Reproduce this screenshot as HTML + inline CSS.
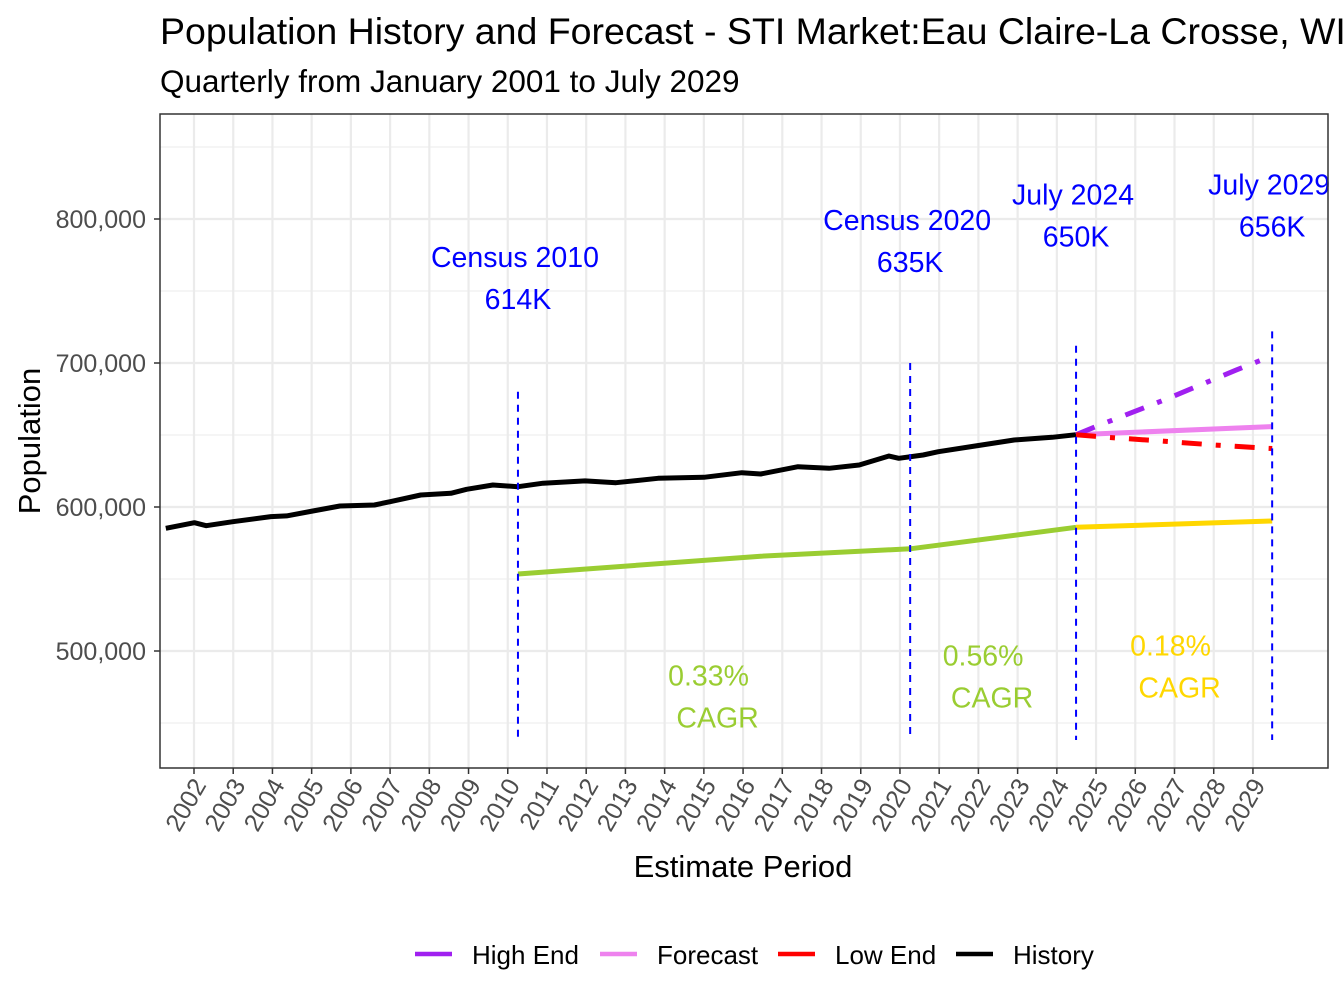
<!DOCTYPE html>
<html><head><meta charset="utf-8"><style>
body{margin:0;background:#fff;}
svg{display:block;font-family:"Liberation Sans",Arial,sans-serif;}
</style></head><body>
<svg id="chart" width="1344" height="1008" viewBox="0 0 1344 1008" xmlns="http://www.w3.org/2000/svg">
<text x="160" y="44" font-size="37.5" fill="#000">Population History and Forecast - STI Market:Eau Claire-La Crosse, WI</text>
<text x="160" y="92" font-size="31.5" fill="#000">Quarterly from January 2001 to July 2029</text>
<g id="grid"></g>
<g id="marks"></g>
<g id="annot"></g>
<rect x="160" y="114" width="1168" height="654" fill="none" stroke="#333" stroke-width="1.5"/>
<g id="axes"></g>
<text x="743" y="877" font-size="31" text-anchor="middle">Estimate Period</text>
<text transform="translate(40,441) rotate(-90)" font-size="31" text-anchor="middle">Population</text>
<g id="legend"></g>
</svg>
<script>
const histYears=[2001.28,2002.01,2002.31,2002.99,2003.96,2004.36,2005.03,2005.72,2006.60,2007.00,2007.78,2008.55,2008.95,2009.62,2010.26,2010.90,2011.97,2012.76,2013.83,2015.00,2015.97,2016.45,2017.40,2018.19,2018.96,2019.72,2019.97,2020.59,2020.98,2021.94,2022.91,2023.88,2024.49];
const histValues=[585200,589100,587000,589800,593300,593800,597200,600700,601400,603700,608300,609500,612300,615300,614100,616500,618100,616900,619900,620600,623800,622900,628000,626900,629200,635400,633800,636100,638400,642400,646500,648400,650200];
const greenYears=[2010.26,2016.45,2020.26,2024.49];
const greenValues=[553500,565800,571000,585900];
const yellowYears=[2024.49,2029.49];
const yellowValues=[585900,590300];
const fcYears=[2024.49,2029.49];
const fcValues=[650200,655800];
const highYears=[2024.49,2024.99,2026.78,2028.57,2029.49];
const highValues=[650200,655800,674800,695100,705000];
const lowYears=[2024.49,2025.28,2026.58,2027.98,2029.33,2029.49];
const lowValues=[650200,648400,646000,643100,640800,640600];
const yTicks=[500000,600000,700000,800000];
const yTickLabels=["500,000","600,000","700,000","800,000"];
const xTicks=[2002,2003,2004,2005,2006,2007,2008,2009,2010,2011,2012,2013,2014,2015,2016,2017,2018,2019,2020,2021,2022,2023,2024,2025,2026,2027,2028,2029];
const vYears=[2010.26,2020.26,2024.49,2029.49];
const vTop=[680000,700000,712000,722000];
const labelTop=["Census 2010","Census 2020","July 2024","July 2029"];
const labelBot=["614K","635K","650K","656K"];
const labelVal=[766500,792200,810200,816900];
const cagrText=["0.33%","0.56%","0.18%"];
const cagrYears=[2015.12,2022.12,2026.9];
const cagrVal=[476000,490000,497000];
const cagrColor=["#9ACD32","#9ACD32","#FFD700"];

const NS="http://www.w3.org/2000/svg";
const X=y=>194+(y-2002)*39.22;
const Y=v=>651-(v-500000)*144/100000;
function mk(tag,attrs,parent){const e=document.createElementNS(NS,tag);for(const k in attrs)e.setAttribute(k,attrs[k]);parent.appendChild(e);return e;}
const grid=document.getElementById('grid'),marks=document.getElementById('marks'),annot=document.getElementById('annot'),axes=document.getElementById('axes'),legend=document.getElementById('legend');
mk('rect',{x:160,y:114,width:1168,height:654,fill:'#fff'},grid);
for(let v=450000;v<=850000;v+=50000){const y=Y(v);if(y<114||y>768)continue;
 const l=mk('line',{x1:160,x2:1328,y1:y,y2:y,stroke:'#ebebeb','stroke-width':(v%100000===0)?2.2:1.1},grid);
 
 }
xTicks.forEach(t=>{const l=mk('line',{x1:X(t),x2:X(t),y1:114,y2:768,stroke:'#ebebeb','stroke-width':2.2},grid);
 
 });
function pts(xs,vs){return xs.map((x,i)=>X(x).toFixed(1)+','+Y(vs[i]).toFixed(1)).join(' ');}
function series(xs,vs,color,name,dash,w){const p=mk('polyline',{points:pts(xs,vs),fill:'none',stroke:color,'stroke-width':w,'stroke-linejoin':'round'},marks);
 if(dash)p.setAttribute('stroke-dasharray',dash);
 
 }
series(greenYears,greenValues,'#9ACD32','cagr-line-2010-2024',null,5);
series(yellowYears,yellowValues,'#FFD700','cagr-line-2024-2029',null,5);
series(histYears,histValues,'#000','history-line',null,5);
series(fcYears,fcValues,'#EE82EE','forecast-line',null,5);
series(highYears,highValues,'#A020F0','high-end-line','20 14 5 14',5);
series(lowYears,lowValues,'#FF0000','low-end-line','20 14 5 14',5);
vYears.forEach((yr,i)=>{const x=X(yr);
 const l=mk('line',{x1:x,x2:x,y1:Y(vTop[i]),y2:740,stroke:'#0000FF','stroke-width':2,'stroke-dasharray':'7 6'},annot);
 
 
 const t1=mk('text',{x:x-3,y:Y(labelVal[i]),'font-size':28.5,fill:'#0000FF','text-anchor':'middle'},annot);t1.textContent=labelTop[i];
 
 
 const t2=mk('text',{x:x,y:Y(labelVal[i])+42,'font-size':28.5,fill:'#0000FF','text-anchor':'middle'},annot);t2.textContent=labelBot[i];
 
 });
cagrText.forEach((c,i)=>{const x=X(cagrYears[i]),y=Y(cagrVal[i]);
 const t1=mk('text',{x:x,y:y,'font-size':28.5,fill:cagrColor[i],'text-anchor':'middle'},annot);t1.textContent=c;
 
 
 const t2=mk('text',{x:x+9,y:y+42,'font-size':28.5,fill:cagrColor[i],'text-anchor':'middle'},annot);t2.textContent='CAGR';
 
 });
yTicks.forEach((v,i)=>{const y=Y(v);
 mk('line',{x1:154,x2:160,y1:y,y2:y,stroke:'#333','stroke-width':1.5},axes);
 const t=mk('text',{x:146,y:y+9,'font-size':25,fill:'#4d4d4d','text-anchor':'end'},axes);t.textContent=yTickLabels[i];
 
 });
xTicks.forEach(yr=>{const x=X(yr);
 mk('line',{x1:x,x2:x,y1:768,y2:774,stroke:'#333','stroke-width':1.5},axes);
 const t=mk('text',{transform:`translate(${x+13},${785}) rotate(-60)`,'font-size':25,fill:'#4d4d4d','text-anchor':'end'},axes);t.textContent=yr;
 
 });
const legNames=["High End","Forecast","Low End","History"];
const legColors=["#A020F0","#EE82EE","#FF0000","#000000"];
const legX=[415,600,778,956];
legNames.forEach((n,i)=>{
 const g=mk('g',{},legend);
 
 
 mk('line',{x1:legX[i],x2:legX[i]+37,y1:954,y2:954,stroke:legColors[i],'stroke-width':4.5},g);
 const t=mk('text',{x:legX[i]+57,y:964,'font-size':26,fill:'#000'},g);t.textContent=n;});
</script>
</body></html>
